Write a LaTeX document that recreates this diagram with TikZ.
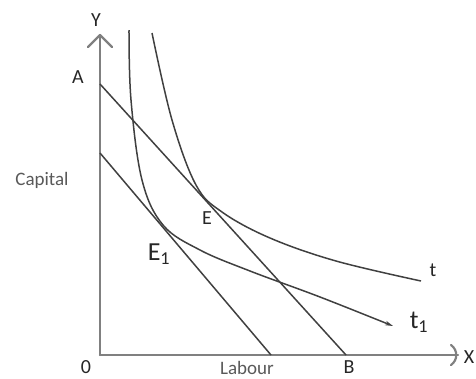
\documentclass[tikz,border=0pt]{standalone}
\usepackage{fontspec}
\setmainfont{Carlito}
\usetikzlibrary{arrows.meta}
\begin{document}
\begin{tikzpicture}[x=1pt,y=-1pt,
  axis/.style={draw=black!50,line width=2.2pt,line join=round,line cap=round},
  curve/.style={draw=black!75,line width=1.5pt},
  lbl/.style={text=black!85,font=\fontsize{20}{20}\selectfont,inner sep=0pt},
  small/.style={text=black!65,font=\fontsize{19}{19}\selectfont,inner sep=0pt},
  big/.style={text=black!85,font=\fontsize{26}{26}\selectfont,inner sep=0pt}]
\useasboundingbox (0,0) rectangle (476,378);
% axes
\coordinate (O) at (100,355);
\coordinate (Ytip) at (100,35);
\coordinate (Xtip) at (458,355);
\draw[axis] (O) -- (Ytip);
\draw[axis] (88,47) -- (Ytip) -- (112,47);
\draw[axis] (O) -- (Xtip);
\draw[axis] (451,345) .. controls (458,350) and (458,360) .. (451,365);
% budget lines
\coordinate (A) at (100,84);
\coordinate (B) at (346,355);
\coordinate (A2) at (100,153);
\coordinate (B2) at (271,355);
\draw[curve] (A) -- (B);
\draw[curve] (A2) -- (B2);
% indifference curves
\draw[curve] plot[smooth,tension=0.6] coordinates {(152,33) (172,120) (196,185) (222,212) (270,238) (336,261) (421,281)};
\draw[curve,-{Stealth[length=8pt,width=4.5pt]}] plot[smooth,tension=0.6] coordinates {(129,30) (131,100) (142,180) (163,225) (200,250) (250,271) (320,297) (393,326)};
% labels
\node[lbl] (ly) at (96,20) {Y};
\node[lbl] (la) at (78,77) {A};
\node[small] (lcap) at (42,180) {Capital};
\node[lbl] (le) at (207,218) {E};
\node[big] (le1) at (159,254) {E\textsubscript{1}};
\node[lbl] (lt) at (433,270) {t};
\node[big] (lt1) at (419,322) {t\textsubscript{1}};
\node[lbl] (lo) at (86,367) {0};
\node[small] (llab) at (247,368) {Labour};
\node[lbl] (lb) at (349,367) {B};
\node[lbl] (lx) at (469,357) {X};
\end{tikzpicture}
\end{document}
